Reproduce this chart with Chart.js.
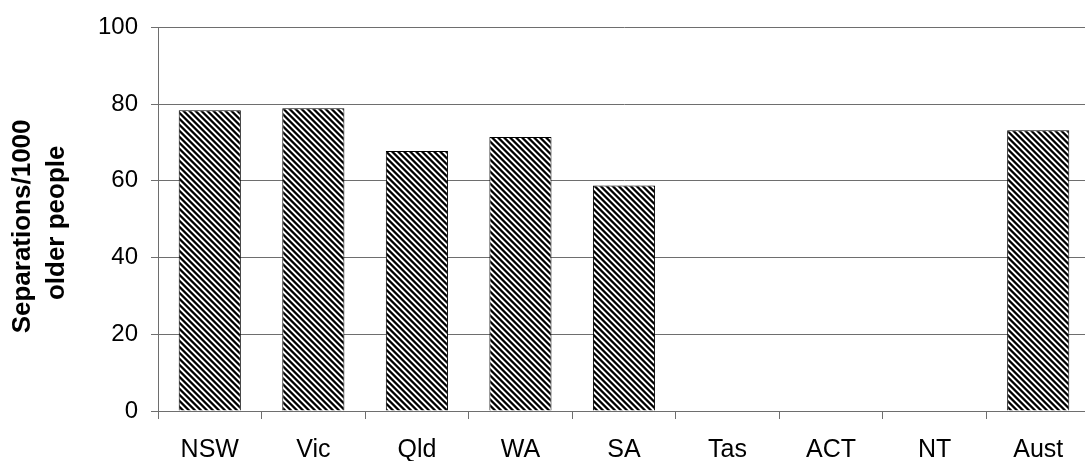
<!DOCTYPE html>
<html>
<head>
<meta charset="utf-8">
<script src="https://cdn.jsdelivr.net/npm/chart.js@4/dist/chart.umd.min.js"></script>
<style>
html, body { margin: 0; padding: 0; background: #fff; overflow: hidden; }
#wrap { width: 1090px; height: 461px; }
</style>
</head>
<body>
<div id="wrap"><canvas id="c" width="1090" height="461"></canvas></div>
<script>
const categories = ['NSW', 'Vic', 'Qld', 'WA', 'SA', 'Tas', 'ACT', 'NT', 'Aust'];
const separations = [78.4, 78.9, 67.8, 71.4, 58.8, null, null, null, 73.2];
const yTicks = [0, 20, 40, 60, 80, 100];
const yTitle = ['Separations/1000  ', 'older people '];

function makePattern() {
  const size = 6;
  const c = document.createElement('canvas');
  c.width = size; c.height = size;
  const g = c.getContext('2d');
  const img = g.createImageData(size, size);
  const shades = [0, 0, 80, 255, 255, 120];
  for (let y = 0; y < size; y++) {
    for (let x = 0; x < size; x++) {
      const d = (((x - y) % size) + size) % size;
      const v = shades[d];
      const i = (y * size + x) * 4;
      img.data[i] = v; img.data[i + 1] = v; img.data[i + 2] = v; img.data[i + 3] = 255;
    }
  }
  g.putImageData(img, 0, 0);
  return document.getElementById('c').getContext('2d').createPattern(c, 'repeat');
}

const FONT = '"Liberation Sans", Arial, Helvetica, sans-serif';
const gridColor = '#6e6e6e';

new Chart(document.getElementById('c'), {
  type: 'bar',
  data: {
    labels: categories,
    datasets: [{
      data: separations,
      backgroundColor: makePattern(),
      borderColor: '#000',
      borderWidth: 1,
      borderSkipped: 'start',
      barPercentage: 0.6,
      categoryPercentage: 1.0
    }]
  },
  options: {
    responsive: false,
    animation: false,
    events: [],
    layout: { padding: { top: 26, left: 0, right: 0, bottom: 0 } },
    plugins: { legend: { display: false }, tooltip: { enabled: false } },
    scales: {
      x: {
        offset: true,
        grid: { display: true, drawOnChartArea: false, drawTicks: true, tickLength: 8, color: gridColor, offset: true },
        border: { display: true, color: gridColor, width: 1 },
        ticks: { color: '#000', font: { family: FONT, size: 25 }, padding: 16, maxRotation: 0, autoSkip: false },
        afterFit: (s) => { s.height = 50; }
      },
      y: {
        min: 0, max: 100,
        afterBuildTicks: (s) => { s.ticks = yTicks.map(v => ({ value: v })); },
        grid: { display: true, drawOnChartArea: true, drawTicks: true, tickLength: 7, color: gridColor },
        border: { display: true, color: gridColor, width: 1 },
        ticks: { color: '#000', font: { family: FONT, size: 24 }, padding: 13 },
        title: {
          display: true,
          text: yTitle,
          color: '#000',
          font: { family: FONT, size: 26, weight: 'bold', lineHeight: 1.3 },
          padding: { top: 6, bottom: 0 }
        },
        afterFit: (s) => { s.width = 158; }
      }
    }
  }
});
</script>
</body>
</html>
